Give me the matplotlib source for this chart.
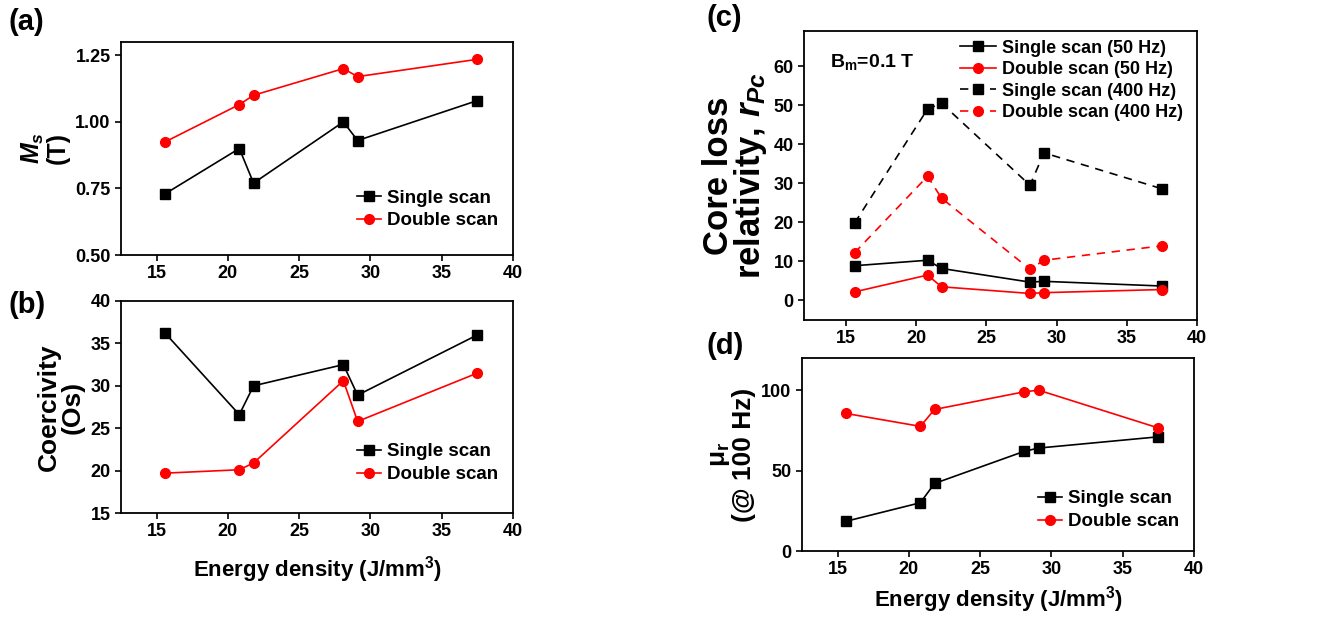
import matplotlib
matplotlib.use("Agg")
import matplotlib.pyplot as plt

plt.rcParams['font.family'] = ['Liberation Sans', 'DejaVu Sans']
plt.rcParams['font.weight'] = 'bold'
plt.rcParams['mathtext.fontset'] = 'custom'
plt.rcParams['mathtext.it'] = 'Liberation Sans:italic:bold'
plt.rcParams['mathtext.rm'] = 'Liberation Sans:bold'

# energy density (J/mm3)
energy = [15.6, 20.8, 21.8, 28.1, 29.1, 37.5]

# (a) saturation magnetization (T)
ms_single = [0.73, 0.90, 0.77, 1.00, 0.93, 1.08]
ms_double = [0.925, 1.065, 1.10, 1.20, 1.17, 1.235]

# (b) coercivity (Oe)
hc_single = [36.2, 26.6, 30.0, 32.5, 28.9, 36.0]
hc_double = [19.7, 20.1, 20.9, 30.6, 25.8, 31.5]

# (c) core loss relativity
loss_single_50 = [8.9, 10.3, 8.2, 4.7, 4.9, 3.7]
loss_double_50 = [2.2, 6.5, 3.5, 1.8, 2.0, 2.8]
loss_single_400 = [19.8, 49.0, 50.5, 29.5, 37.8, 28.6]
loss_double_400 = [12.2, 31.8, 26.2, 8.0, 10.3, 14.0]

# (d) permeability @ 100 Hz
mu_single = [18.5, 30.0, 42.0, 62.0, 64.0, 71.0]
mu_double = [85.5, 77.5, 88.0, 99.0, 100.0, 76.5]

W, H = 1333, 617
fig = plt.figure(figsize=(W / 100, H / 100), dpi=100)


def make_ax(left, top, right, bottom):
    return fig.add_axes([left / W, 1 - bottom / H, (right - left) / W, (bottom - top) / H])


def style(ax):
    for s in ax.spines.values():
        s.set_linewidth(1.3)
    ax.tick_params(direction='out', length=4, width=1.2, labelsize=13)
    for lab in ax.get_xticklabels() + ax.get_yticklabels():
        lab.set_fontweight('bold')


black = dict(color='black', marker='s', markersize=7, linewidth=1.2)
red = dict(color='red', marker='o', markersize=7, linewidth=1.2)
leg_kw = dict(frameon=False, fontsize=13.5, handlelength=1.3, handletextpad=0.3,
              labelspacing=0.3, borderaxespad=0.4)

# ---- (a)
ax = make_ax(121, 42, 513, 255)
ax.plot(energy, ms_single, label='Single scan', **black)
ax.plot(energy, ms_double, label='Double scan', **red)
ax.set_xlim(12.5, 40)
ax.set_ylim(0.5, 1.30)
ax.set_xticks([15, 20, 25, 30, 35, 40])
ax.set_yticks([0.5, 0.75, 1.0, 1.25])
ax.set_yticklabels(['0.50', '0.75', '1.00', '1.25'])
ax.set_ylabel('$M_s$\n(T)', fontsize=18, fontweight='bold', linespacing=1.0, labelpad=4)
ax.legend(loc='lower right', bbox_to_anchor=(1.0, 0.05), **leg_kw)
style(ax)

# ---- (b)
ax = make_ax(121, 301, 513, 513)
ax.plot(energy, hc_single, label='Single scan', **black)
ax.plot(energy, hc_double, label='Double scan', **red)
ax.set_xlim(12.5, 40)
ax.set_ylim(15, 40)
ax.set_xticks([15, 20, 25, 30, 35, 40])
ax.set_yticks([15, 20, 25, 30, 35, 40])
ax.set_ylabel('Coercivity\n(Os)', fontsize=19, fontweight='bold', linespacing=1.0)
ax.set_xlabel('Energy density (J/mm$^3$)', fontsize=16, fontweight='bold', labelpad=10)
ax.legend(loc='lower right', bbox_to_anchor=(1.0, 0.07), **leg_kw)
style(ax)

# ---- (c)
ax = make_ax(804, 31, 1197, 320)
ax.plot(energy, loss_single_50, label='Single scan (50 Hz)', **black)
ax.plot(energy, loss_double_50, label='Double scan (50 Hz)', **red)
ax.plot(energy, loss_single_400, linestyle=(0, (5, 4)), label='Single scan (400 Hz)', **black)
ax.plot(energy, loss_double_400, linestyle=(0, (5, 4)), label='Double scan (400 Hz)', **red)
ax.set_xlim(12, 40)
ax.set_ylim(-5, 69)
ax.set_xticks([15, 20, 25, 30, 35, 40])
ax.set_yticks([0, 10, 20, 30, 40, 50, 60])
ax.set_ylabel('Core loss\nrelativity, $\\mathit{r}_{Pc}$', fontsize=25, fontweight='bold',
              linespacing=0.92, labelpad=3)
ax.text(0.065, 0.875, 'B$_{\\mathrm{m}}$=0.1 T', transform=ax.transAxes, fontsize=14,
        fontweight='bold')
ax.legend(loc='upper right', bbox_to_anchor=(1.0, 1.02), handlelength=2.0, frameon=False,
          fontsize=13, handletextpad=0.3, labelspacing=0.25, borderaxespad=0.4)
style(ax)

# ---- (d)
ax = make_ax(802, 358, 1194, 551)
ax.plot(energy, mu_single, label='Single scan', **black)
ax.plot(energy, mu_double, label='Double scan', **red)
ax.set_xlim(12.5, 40)
ax.set_ylim(0, 120)
ax.set_xticks([15, 20, 25, 30, 35, 40])
ax.set_yticks([0, 50, 100])
ax.set_ylabel('$\\mathrm{\\mu_r}$\n(@ 100 Hz)', fontsize=19, fontweight='bold', linespacing=1.0)
ax.set_xlabel('Energy density (J/mm$^3$)', fontsize=16, fontweight='bold', labelpad=4)
ax.legend(loc='lower right', bbox_to_anchor=(1.0, 0.03), **leg_kw)
style(ax)

# panel letters
for lab, x, y in [('(a)', 8, 22), ('(b)', 8, 305), ('(c)', 706, 18), ('(d)', 706, 346)]:
    fig.text(x / W, 1 - y / H, lab, fontsize=21, fontweight='bold', va='center')

fig.savefig('out.png', dpi=100, facecolor='white')
